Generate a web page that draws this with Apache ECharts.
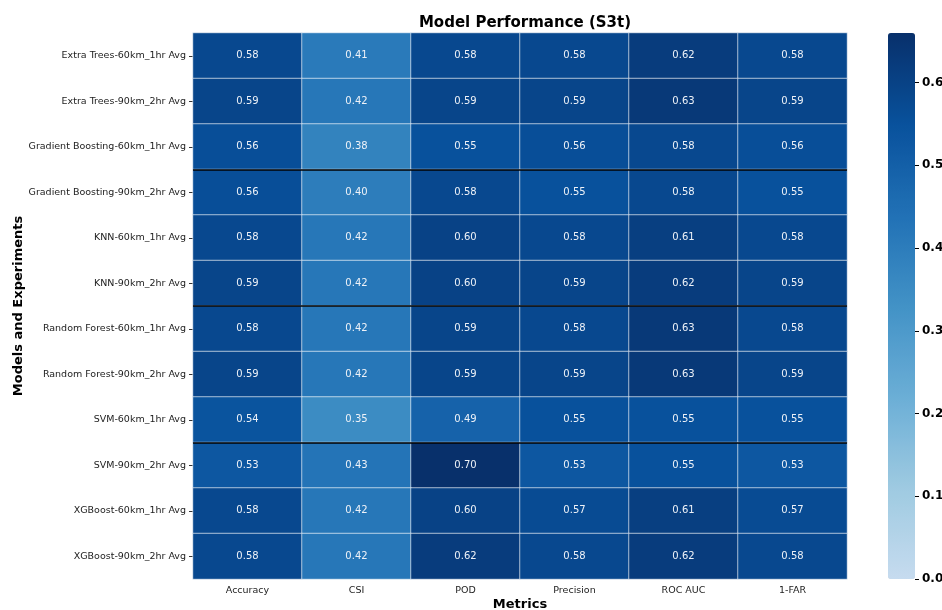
<!DOCTYPE html>
<html><head><meta charset="utf-8">
<script src="https://cdn.jsdelivr.net/npm/echarts@6/dist/echarts.min.js"></script>
<style>html,body{margin:0;padding:0;background:#fff}#c{width:942px;height:610px}</style>
</head><body><div id="c"></div>
<script>
const metrics = ['Accuracy','CSI','POD','Precision','ROC AUC','1-FAR'];
const models = [
 'Extra Trees-60km_1hr Avg','Extra Trees-90km_2hr Avg',
 'Gradient Boosting-60km_1hr Avg','Gradient Boosting-90km_2hr Avg',
 'KNN-60km_1hr Avg','KNN-90km_2hr Avg',
 'Random Forest-60km_1hr Avg','Random Forest-90km_2hr Avg',
 'SVM-60km_1hr Avg','SVM-90km_2hr Avg',
 'XGBoost-60km_1hr Avg','XGBoost-90km_2hr Avg'];
const scores = [
 [0.58,0.41,0.58,0.58,0.62,0.58],
 [0.59,0.42,0.59,0.59,0.63,0.59],
 [0.56,0.38,0.55,0.56,0.58,0.56],
 [0.56,0.40,0.58,0.55,0.58,0.55],
 [0.58,0.42,0.60,0.58,0.61,0.58],
 [0.59,0.42,0.60,0.59,0.62,0.59],
 [0.58,0.42,0.59,0.58,0.63,0.58],
 [0.59,0.42,0.59,0.59,0.63,0.59],
 [0.54,0.35,0.49,0.55,0.55,0.55],
 [0.53,0.43,0.70,0.53,0.55,0.53],
 [0.58,0.42,0.60,0.57,0.61,0.57],
 [0.58,0.42,0.62,0.58,0.62,0.58]];
const separators = [3,6,9];
const colorTicks = [0,0.1,0.2,0.3,0.4,0.5,0.6];
const colorMax = 0.66;

const data = [];
scores.forEach((row,i)=>row.forEach((v,j)=>data.push([j,i,v])));
const F = 'DejaVu Sans';
const chart = echarts.init(document.getElementById('c'));
chart.setOption({
  animation:false,
  textStyle:{fontFamily:F},
  title:{text:'Model Performance (S3t)',left:520,top:11,textAlign:'center',
    textStyle:{fontFamily:F,fontSize:15,fontWeight:'bold',color:'#000'}},
  grid:[{left:193,top:33,width:654,height:546,containLabel:false,outerBoundsMode:'none'},
        {left:915,top:33,width:20,height:546,show:false,containLabel:false,outerBoundsMode:'none'}],
  xAxis:[{type:'category',data:metrics,gridIndex:0,
    name:'Metrics',nameLocation:'middle',nameGap:19,nameMoveOverlap:false,
    nameTextStyle:{fontFamily:F,fontSize:13,fontWeight:'bold',color:'#000'},
    axisLine:{show:false},axisTick:{show:true,alignWithLabel:true,length:4,lineStyle:{color:'#333'}},
    axisLabel:{fontFamily:F,fontSize:9.5,color:'#222',margin:7},splitLine:{show:false}},
    {type:'value',gridIndex:1,show:false,min:0,max:1}],
  yAxis:[{type:'category',data:models,inverse:true,gridIndex:0,
    name:'Models and Experiments',nameLocation:'middle',nameGap:168,nameRotate:90,nameMoveOverlap:false,
    nameTextStyle:{fontFamily:F,fontSize:13,fontWeight:'bold',color:'#000'},
    axisLine:{show:false},axisTick:{show:true,alignWithLabel:true,length:4,lineStyle:{color:'#333'}},
    axisLabel:{fontFamily:F,fontSize:9.5,color:'#222',margin:7}},
    {type:'value',gridIndex:0,min:0,max:models.length,inverse:true,show:false},
    {type:'value',gridIndex:1,min:0,max:colorMax,position:'left',z:20,
     axisLine:{show:false},
     axisTick:{show:true,length:4,inside:true,customValues:colorTicks,lineStyle:{color:'#000',width:1}},
     splitLine:{show:false},
     axisLabel:{inside:true,fontFamily:F,fontSize:12,fontWeight:'bold',color:'#000',margin:7,
       customValues:colorTicks,formatter:v=>Number(v).toFixed(1)}}],
  visualMap:{type:'continuous',min:0,max:colorMax,seriesIndex:0,z:1,
    show:true,calculable:false,text:null,showLabel:false,padding:0,
    left:888,top:33,itemWidth:27,itemHeight:546,
    inRange:{color:['#c6dbef','#9ecae1','#6baed6','#4292c6','#2171b5','#08519c','#08306b']}},
  series:[
    {type:'heatmap',data:data,xAxisIndex:0,yAxisIndex:0,
     itemStyle:{borderColor:'rgba(255,255,255,0.75)',borderWidth:0.8},
     label:{show:true,color:'#eef2f8',fontFamily:F,fontSize:10,
       formatter:p=>p.value[2].toFixed(2)},
     emphasis:{disabled:true}},
    {type:'line',xAxisIndex:0,yAxisIndex:1,data:[],silent:true,
     markLine:{symbol:'none',silent:true,label:{show:false},
       lineStyle:{color:'#000',width:1.5,type:'solid'},
       data:separators.map(s=>({yAxis:s}))}},
    {type:'scatter',xAxisIndex:1,yAxisIndex:2,data:[],z:10}
  ]
});
</script></body></html>
